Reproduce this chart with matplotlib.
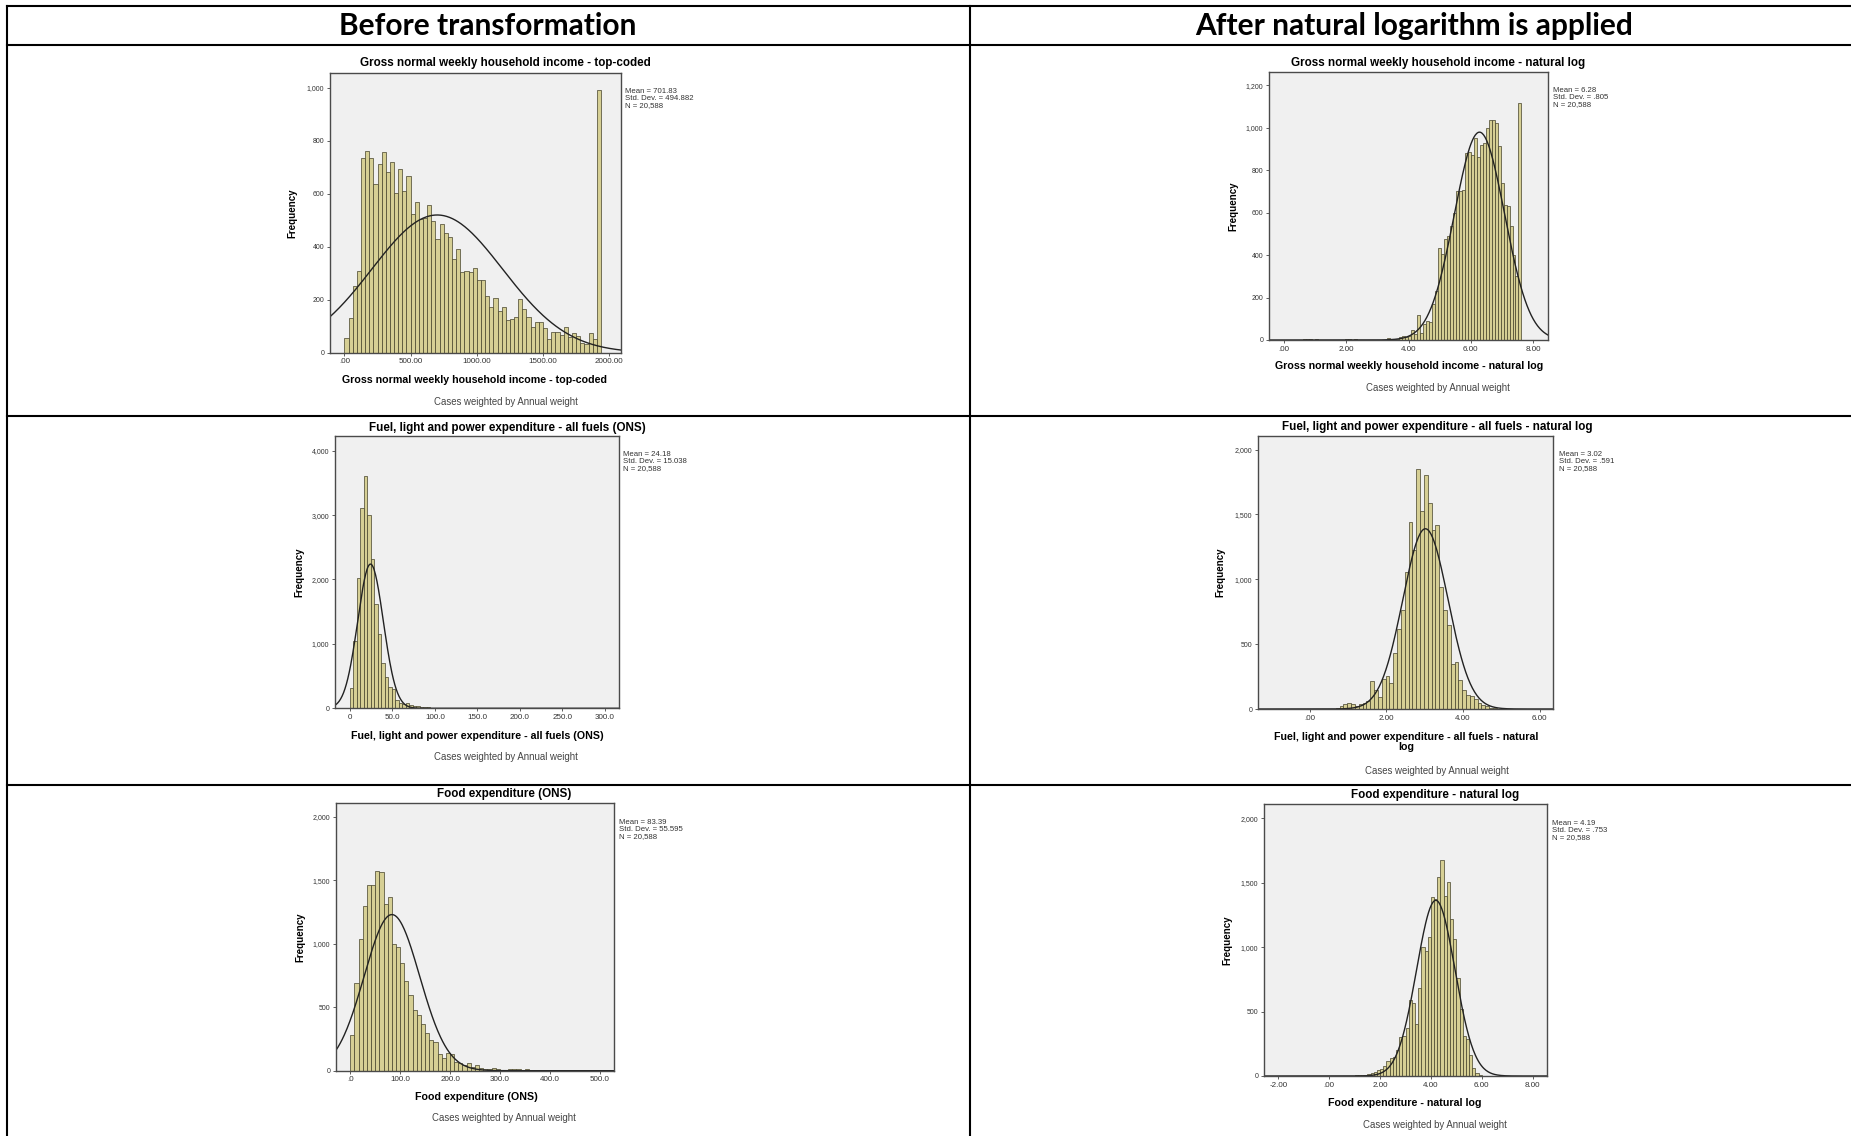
import numpy as np
import matplotlib.pyplot as plt
from matplotlib.lines import Line2D

plt.rcParams['font.family'] = ['Liberation Sans', 'DejaVu Sans']

# ---- data ----
income_start, income_bw = 0.0, 31.3
income_counts = [54, 130, 250, 308, 733, 762, 733, 635, 711, 756,
                 680, 720, 601, 693, 611, 668, 522, 570, 503, 509,
                 556, 498, 428, 486, 453, 435, 352, 392, 304, 309,
                 306, 321, 274, 274, 214, 174, 205, 157, 171, 123,
                 126, 136, 201, 166, 136, 98, 117, 114, 92, 50,
                 79, 79, 67, 96, 58, 75, 63, 38, 33, 73, 53, 990]
income_stats = (701.83, 494.882, 20588)

lninc_start, lninc_bw = 0.14, 0.096
lninc_counts = [0, 0, 0, 0, 0, 4, 3, 5, 2, 4,
                0, 0, 0, 0, 0, 0, 0, 0, 0, 3,
                4, 0, 5, 0, 0, 0, 0, 0, 0, 0,
                0, 0, 0, 8, 6, 4, 6, 12, 20, 15,
                20, 45, 30, 120, 35, 75, 90, 85, 170, 230,
                435, 405, 475, 490, 535, 600, 700, 700, 705, 880,
                885, 870, 950, 862, 917, 927, 1000, 1035, 1035, 1025,
                912, 740, 637, 630, 535, 400, 300, 1115]
lninc_stats = (6.28, 0.805, 20588)

fuel_start, fuel_bw = 0.0, 4.1
fuel_counts = [310, 1050, 2020, 3110, 3600, 3000, 2320, 1620, 1150, 700,
               480, 330, 300, 130, 80, 60, 80, 45, 40, 30,
               25, 15, 15, 12, 10, 10, 8, 8, 5, 5,
               4, 4, 3, 3, 2, 2, 2, 1, 1]
fuel_stats = (24.18, 15.038, 20588)

lnfuel_start, lnfuel_bw = -0.42, 0.1
lnfuel_counts = [3, 2, 3, 0, 0, 0, 0, 3, 2, 0,
                 0, 5, 20, 40, 50, 40, 25, 40, 50, 65,
                 215, 150, 90, 235, 255, 200, 435, 620, 760, 1055,
                 1440, 1225, 1850, 1530, 1805, 1590, 1380, 1420, 940, 760,
                 650, 350, 360, 220, 150, 110, 100, 80, 45, 30,
                 20, 10, 5, 3, 2, 2, 0, 0, 0, 2, 0, 0, 2]
lnfuel_stats = (3.02, 0.591, 20588)

food_start, food_bw = 0.0, 8.33
food_counts = [285, 690, 1040, 1300, 1465, 1465, 1575, 1565, 1310, 1370,
               1000, 975, 845, 705, 600, 480, 440, 370, 300, 240,
               230, 130, 100, 140, 130, 70, 60, 45, 60, 30,
               45, 20, 10, 10, 25, 15, 5, 8, 15, 15,
               15, 5, 15, 5, 3, 2, 3, 2, 2, 3,
               2, 2, 3, 2, 0, 3, 8]
food_stats = (83.39, 55.595, 20588)

lnfood_start, lnfood_bw = -1.0, 0.125
lnfood_counts = [2, 0, 3, 0, 2, 3, 0, 2,
                 3, 0, 2, 0, 2, 0, 2, 2, 4, 5,
                 8, 10, 15, 25, 30, 45, 55, 80, 120, 140,
                 150, 200, 305, 310, 370, 590, 570, 400, 680, 1000,
                 970, 1080, 1390, 1370, 1545, 1680, 1400, 1505, 1220, 1060,
                 760, 520, 310, 290, 160, 60, 20, 5]
lnfood_stats = (4.19, 0.753, 20588)

headers = ['Before transformation', 'After natural logarithm is applied']

panels = [
    dict(title='Gross normal weekly household income - top-coded',
         xlabel='Gross normal weekly household income - top-coded',
         start=income_start, bw=income_bw, counts=income_counts, stats=income_stats,
         sd_txt='494.882', mean_txt='701.83',
         xticks=[0, 500, 1000, 1500, 2000],
         xticklabels=['.00', '500.00', '1000.00', '1500.00', '2000.00'],
         yticks=[0, 200, 400, 600, 800, 1000],
         xlim=(-109, 2092), ylim=(0, 1055),
         box=(330, 73, 621, 352.7), title_xy=(505, 63), xlab_xy=(475, 380),
         cases_xy=(506, 402), ylab_x=292, stats_xy=(625, 88)),
    dict(title='Gross normal weekly household income - natural log',
         xlabel='Gross normal weekly household income - natural log',
         start=lninc_start, bw=lninc_bw, counts=lninc_counts, stats=lninc_stats,
         sd_txt='.805', mean_txt='6.28',
         xticks=[0, 2, 4, 6, 8],
         xticklabels=['.00', '2.00', '4.00', '6.00', '8.00'],
         yticks=[0, 200, 400, 600, 800, 1000, 1200],
         xlim=(-0.48, 8.48), ylim=(0, 1263),
         box=(1269, 72, 1548, 340), title_xy=(1438, 63), xlab_xy=(1409, 366),
         cases_xy=(1438, 388), ylab_x=1233, stats_xy=(1553, 87)),
    dict(title='Fuel, light and power expenditure - all fuels (ONS)',
         xlabel='Fuel, light and power expenditure - all fuels (ONS)',
         start=fuel_start, bw=fuel_bw, counts=fuel_counts, stats=fuel_stats,
         sd_txt='15.038', mean_txt='24.18',
         xticks=[0, 50, 100, 150, 200, 250, 300],
         xticklabels=['0', '50.0', '100.0', '150.0', '200.0', '250.0', '300.0'],
         yticks=[0, 1000, 2000, 3000, 4000],
         xlim=(-17.6, 316.5), ylim=(0, 4228),
         box=(335, 436, 619, 708.3), title_xy=(507, 428), xlab_xy=(477, 736),
         cases_xy=(506, 757), ylab_x=299, stats_xy=(623, 451)),
    dict(title='Fuel, light and power expenditure - all fuels - natural log',
         xlabel='Fuel, light and power expenditure - all fuels - natural\nlog',
         start=lnfuel_start, bw=lnfuel_bw, counts=lnfuel_counts, stats=lnfuel_stats,
         sd_txt='.591', mean_txt='3.02',
         xticks=[0, 2, 4, 6],
         xticklabels=['.00', '2.00', '4.00', '6.00'],
         yticks=[0, 500, 1000, 1500, 2000],
         xlim=(-1.35, 6.35), ylim=(0, 2105),
         box=(1258, 436, 1553, 709), title_xy=(1437, 427), xlab_xy=(1406, 742),
         cases_xy=(1437, 771), ylab_x=1220, stats_xy=(1559, 451)),
    dict(title='Food expenditure (ONS)',
         xlabel='Food expenditure (ONS)',
         start=food_start, bw=food_bw, counts=food_counts, stats=food_stats,
         sd_txt='55.595', mean_txt='83.39',
         xticks=[0, 100, 200, 300, 400, 500],
         xticklabels=['.0', '100.0', '200.0', '300.0', '400.0', '500.0'],
         yticks=[0, 500, 1000, 1500, 2000],
         xlim=(-28.7, 528.7), ylim=(0, 2110),
         box=(336, 803, 614, 1070.7), title_xy=(504, 794), xlab_xy=(476, 1097),
         cases_xy=(504, 1118), ylab_x=300, stats_xy=(619, 819)),
    dict(title='Food expenditure - natural log',
         xlabel='Food expenditure - natural log',
         start=lnfood_start, bw=lnfood_bw, counts=lnfood_counts, stats=lnfood_stats,
         sd_txt='.753', mean_txt='4.19',
         xticks=[-2, 0, 2, 4, 6, 8],
         xticklabels=['-2.00', '.00', '2.00', '4.00', '6.00', '8.00'],
         yticks=[0, 500, 1000, 1500, 2000],
         xlim=(-2.56, 8.56), ylim=(0, 2111),
         box=(1264, 804, 1547, 1076), title_xy=(1435, 795), xlab_xy=(1405, 1103),
         cases_xy=(1435, 1125), ylab_x=1227, stats_xy=(1552, 820)),
]

W, H = 1851, 1136
fig = plt.figure(figsize=(W / 100, H / 100), dpi=100)
fig.patch.set_facecolor('white')


def fx(x):
    return x / W


def fy(y):
    return 1 - y / H


def hline(y, x0=7, x1=W):
    fig.add_artist(Line2D([fx(x0), fx(x1)], [fy(y), fy(y)], color='black', lw=1.5))


def vline(x, y0=6, y1=H):
    fig.add_artist(Line2D([fx(x), fx(x)], [fy(y0), fy(y1)], color='black', lw=1.5))


# table grid
for y in [6, 45, 416, 785]:
    hline(y)
for x in [7, 970]:
    vline(x)

fig.text(fx(488), fy(26), headers[0], fontsize=21.5, fontweight='bold',
         family='Lato', ha='center', va='center')
fig.text(fx(1414), fy(26), headers[1], fontsize=21.5, fontweight='bold',
         family='Lato', ha='center', va='center')

bar_color = '#d6cf94'
edge_color = '#45422a'

for p in panels:
    l, t, r, b = p['box']
    ax = fig.add_axes([fx(l), fy(b), fx(r - l), (b - t) / H])
    ax.set_facecolor('#f0f0f0')
    counts = np.array(p['counts'], dtype=float)
    lefts = p['start'] + p['bw'] * np.arange(len(counts))
    ax.bar(lefts, counts, width=p['bw'], align='edge', color=bar_color,
           edgecolor=edge_color, linewidth=0.5)

    mean, sd, n = p['stats']
    xs = np.linspace(p['xlim'][0], p['xlim'][1], 400)
    ys = n * p['bw'] / (sd * np.sqrt(2 * np.pi)) * np.exp(-0.5 * ((xs - mean) / sd) ** 2)
    ax.plot(xs, ys, color='#222222', lw=1.0)

    ax.set_xlim(*p['xlim'])
    ax.set_ylim(*p['ylim'])
    ax.set_xticks(p['xticks'])
    ax.set_xticklabels(p['xticklabels'], fontsize=5.8, color='#333333')
    ax.set_yticks(p['yticks'])
    ax.set_yticklabels([f'{v:,}' for v in p['yticks']], fontsize=5.0, color='#333333')
    ax.tick_params(direction='out', length=2.5, width=0.6, color='#444444', pad=1.5)
    for s in ax.spines.values():
        s.set_color('#4a4a4a')
        s.set_linewidth(1.0)

    fig.text(fx(p['title_xy'][0]), fy(p['title_xy'][1]), p['title'],
             fontsize=8.4, fontweight='bold', ha='center', va='center')
    fig.text(fx(p['xlab_xy'][0]), fy(p['xlab_xy'][1]), p['xlabel'],
             fontsize=7.7, fontweight='bold', ha='center', va='center', linespacing=0.95)
    fig.text(fx(p['cases_xy'][0]), fy(p['cases_xy'][1]), 'Cases weighted by Annual weight',
             fontsize=6.9, color='#444444', ha='center', va='center')
    fig.text(fx(p['ylab_x']), fy((t + b) / 2), 'Frequency', rotation=90,
             fontsize=7.0, fontweight='bold', ha='center', va='center')
    stats_txt = f"Mean = {p['mean_txt']}\nStd. Dev. = {p['sd_txt']}\nN = {n:,}"
    fig.text(fx(p['stats_xy'][0]), fy(p['stats_xy'][1]), stats_txt,
             fontsize=5.6, color='#333333', ha='left', va='top', linespacing=1.0)

fig.savefig('out.png', dpi=100)
